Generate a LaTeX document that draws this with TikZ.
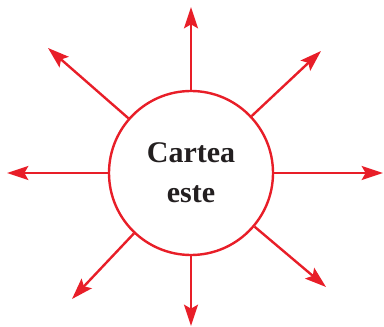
\documentclass[tikz,border=0pt]{standalone}
\usepackage{fontspec}
\setmainfont{Liberation Serif}
\usetikzlibrary{arrows.meta}
\definecolor{rayred}{RGB}{232,30,40}
\definecolor{txt}{RGB}{35,31,32}
\begin{document}
\begin{tikzpicture}[x=0.75pt,y=-0.75pt,
  ray/.style={draw=rayred,line width=1.8pt,-{Stealth[length=16pt,width=10.5pt,inset=3pt]}},
  hub/.style={circle,draw=rayred,line width=1.8pt,minimum size=123pt,inner sep=0pt,
    font=\fontsize{22.5}{27}\selectfont\bfseries,text=txt,align=center}]
\useasboundingbox (0,0) rectangle (384,327);
\node[hub] (c) at (191,173) {Cartea\\[3pt]este};
\coordinate (tN) at (191,7);
\coordinate (tS) at (191,326);
\coordinate (tW) at (7,173);
\coordinate (tE) at (383,173);
\coordinate (tNW) at (48,48);
\coordinate (tNE) at (321,51);
\coordinate (tSW) at (72,299);
\coordinate (tSE) at (326,287);
\foreach \t in {tN,tS,tW,tE,tNW,tNE,tSW,tSE}
  \draw[ray] (c) -- (\t);
\end{tikzpicture}
\end{document}
